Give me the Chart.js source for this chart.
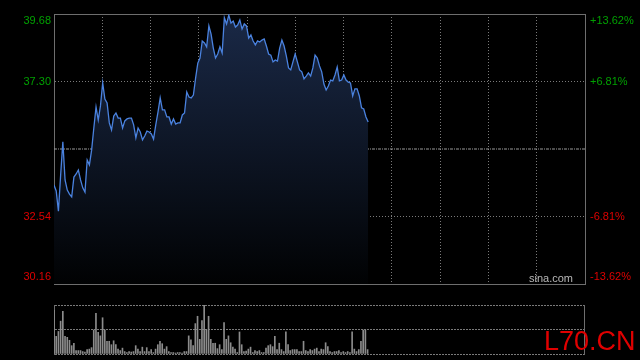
<!DOCTYPE html>
<html>
<head>
<meta charset="utf-8">
<script src="https://cdn.jsdelivr.net/npm/chart.js@4/dist/chart.umd.min.js"></script>
<style>
  html, body { margin: 0; padding: 0; background: #000; overflow: hidden; }
  #wrap { position: relative; width: 640px; height: 360px; }
  canvas { position: absolute; left: 0; }
  #price { top: 0; }
  #vol { top: 295px; }
</style>
</head>
<body>
<div id="wrap">
  <canvas id="price" width="640" height="295"></canvas>
  <canvas id="vol" width="640" height="65"></canvas>
</div>
<script>
// one trading day, minute slots 9:30 - 15:00
const slots = 241;
const prevClose = 34.92;
const priceTicks = [30.16, 32.54, 34.92, 37.30, 39.68];
const pctTicks = [-13.62, -6.81, 0, 6.81, 13.62];

const prices = [
  33.65, 33.44, 32.73, 34.00, 35.17, 33.83, 33.47, 33.33, 33.23, 33.93,
  34.04, 34.18, 33.83, 33.55, 33.40, 34.53, 34.36, 34.88, 35.66, 36.40,
  35.94, 36.44, 37.25, 36.68, 36.54, 35.84, 35.59, 36.08, 36.19, 36.01,
  36.01, 35.66, 35.91, 35.98, 36.01, 36.01, 35.77, 35.31, 35.66, 35.52,
  35.24, 35.38, 35.55, 35.52, 35.45, 35.27, 35.77, 36.22, 36.72, 36.30,
  36.30, 36.05, 36.05, 35.80, 35.98, 35.80, 35.84, 35.84, 36.12, 36.19,
  36.93, 36.75, 36.72, 36.82, 37.42, 37.95, 38.13, 38.73, 38.66, 38.52,
  39.26, 38.97, 38.48, 38.13, 38.27, 38.52, 38.30, 39.55, 39.33, 39.64,
  39.36, 39.43, 39.22, 39.29, 39.47, 39.15, 39.33, 39.26, 38.83, 38.94,
  38.73, 38.59, 38.73, 38.69, 38.76, 38.80, 38.55, 38.27, 38.23, 37.99,
  38.06, 38.02, 38.48, 38.76, 38.55, 38.20, 37.78, 37.71, 37.99, 38.27,
  37.99, 37.71, 37.64, 37.39, 37.49, 37.60, 37.49, 37.78, 38.23, 38.13,
  37.85, 37.64, 37.21, 37.00, 37.14, 37.35, 37.32, 37.53, 37.81, 37.32,
  37.35, 37.53, 37.35, 37.28, 37.25, 36.79, 37.04, 37.04, 36.79, 36.37,
  36.33, 36.05, 35.87
];

const volumes = [
  89, 36, 46, 67, 87, 36, 34, 28, 17, 22,
  7, 7, 7, 5, 4, 9, 10, 13, 49, 83,
  44, 37, 74, 49, 26, 26, 19, 27, 19, 10,
  7, 12, 5, 3, 5, 4, 5, 17, 10, 5,
  14, 5, 13, 5, 9, 3, 10, 19, 26, 21,
  10, 15, 5, 3, 3, 2, 3, 3, 2, 5,
  5, 37, 29, 17, 62, 77, 30, 68, 100, 50,
  77, 30, 22, 22, 11, 19, 9, 64, 30, 37,
  23, 14, 10, 3, 45, 19, 5, 6, 10, 14,
  3, 7, 5, 7, 3, 3, 12, 17, 19, 15,
  36, 9, 22, 9, 5, 45, 19, 7, 9, 9,
  9, 5, 5, 26, 7, 5, 9, 7, 10, 12,
  5, 10, 9, 23, 15, 5, 3, 5, 5, 7,
  3, 5, 3, 5, 3, 45, 10, 5, 9, 26,
  49, 49, 9
];
const volMax = 100;

const green = '#00a000';
const red = '#dd0000';
const gridGray = '#7a7a7a';
const borderGray = '#6e6e6e';
const labelFont = { family: 'Liberation Sans, Arial, sans-serif', size: 11 };

// vertical grid every 1/11 of the session
const xGrid = [];
for (let k = 0; k <= 11; k++) xGrid.push({ value: k * (slots - 1) / 11 });

function edgeLabel(text, i, n) {
  if (i === 0) return [text, ''];
  if (i === n - 1) return ['', text];
  return text;
}

// keep the plot box fixed, labels may hang over the edges
function fixY(width) {
  return (s) => { s.width = width; s.paddingTop = 0; s.paddingBottom = 0; };
}

const textPlugin = {
  id: 'texts',
  afterDraw(chart) {
    const c = chart.ctx;
    const a = chart.chartArea;
    c.save();
    if (chart.canvas.id === 'price') {
      c.font = '11px Liberation Sans, Arial, sans-serif';
      c.fillStyle = '#b8b8b8';
      c.textAlign = 'right';
      c.textBaseline = 'alphabetic';
      c.fillText('sina.com', a.right - 12, a.bottom - 2);
    } else {
      c.font = '27px Liberation Sans, Arial, sans-serif';
      c.fillStyle = '#e00000';
      c.textAlign = 'left';
      c.textBaseline = 'alphabetic';
      c.fillText('L70.CN', 544, 55);
    }
    c.restore();
  }
};

new Chart(document.getElementById('price'), {
  type: 'line',
  data: {
    datasets: [
      {
        data: prices.map((p, i) => ({ x: i, y: p })),
        yAxisID: 'y',
        borderColor: '#4a82df',
        borderWidth: 1.3,
        pointRadius: 0,
        tension: 0,
        fill: 'start',
        backgroundColor: (ctx) => {
          const a = ctx.chart.chartArea;
          if (!a) return 'transparent';
          const g = ctx.chart.ctx.createLinearGradient(0, a.top, 0, a.bottom);
          g.addColorStop(0, '#1a2947');
          g.addColorStop(1, '#010203');
          return g;
        }
      },
      {
        data: [{ x: 0, y: prevClose }, { x: slots - 1, y: prevClose }],
        yAxisID: 'y',
        borderColor: '#9a9a9a',
        borderWidth: 1,
        borderDash: [3, 1, 1, 1],
        pointRadius: 0,
        fill: false
      }
    ]
  },
  options: {
    responsive: false,
    animation: false,
    events: [],
    plugins: { legend: { display: false }, tooltip: { enabled: false } },
    layout: { padding: 0 },
    scales: {
      x: {
        type: 'linear', min: 0, max: slots - 1,
        afterBuildTicks: (s) => { s.ticks = xGrid.map(t => ({ value: t.value })); },
        ticks: { display: false },
        grid: { color: (c) => (c.index === 0 || c.index === 11) ? 'transparent' : gridGray, drawTicks: false },
        border: { color: borderGray, dash: [1, 2] },
        afterFit: (s) => { s.height = 11; s.paddingLeft = 0; s.paddingRight = 0; }
      },
      xTop: {
        type: 'linear', position: 'top', min: 0, max: slots - 1,
        ticks: { display: false },
        grid: { display: false, drawTicks: false },
        border: { color: borderGray },
        afterFit: (s) => { s.height = 14; s.paddingLeft = 0; s.paddingRight = 0; }
      },
      y: {
        position: 'left', min: priceTicks[0], max: priceTicks[priceTicks.length - 1],
        afterBuildTicks: (s) => { s.ticks = priceTicks.map(v => ({ value: v })); },
        ticks: {
          padding: 3,
          font: labelFont,
          color: (c) => c.tick.value > prevClose ? green : red,
          callback: (v, i) => v === prevClose ? '' : edgeLabel(v.toFixed(2), i, priceTicks.length)
        },
        grid: {
          color: (c) => (c.index === 0 || c.index === priceTicks.length - 1 || c.tick.value === prevClose) ? 'transparent' : gridGray,
          drawTicks: false
        },
        border: { color: borderGray, dash: [1, 2] },
        afterFit: fixY(54)
      },
      y2: {
        position: 'right', min: pctTicks[0], max: pctTicks[pctTicks.length - 1],
        afterBuildTicks: (s) => { s.ticks = pctTicks.map(v => ({ value: v })); },
        ticks: {
          padding: 5,
          font: labelFont,
          color: (c) => c.tick.value > 0 ? green : red,
          callback: (v, i) => v === 0 ? '' : edgeLabel((v > 0 ? '+' : '') + v.toFixed(2) + '%', i, pctTicks.length)
        },
        grid: { display: false, drawTicks: false },
        border: { color: borderGray },
        afterFit: fixY(55)
      }
    }
  },
  plugins: [textPlugin]
});

new Chart(document.getElementById('vol'), {
  type: 'bar',
  data: {
    datasets: [{
      data: volumes.map((v, i) => ({ x: i, y: v })),
      backgroundColor: '#8c8c8c',
      borderWidth: 0,
      barThickness: 1
    }]
  },
  options: {
    responsive: false,
    animation: false,
    events: [],
    plugins: { legend: { display: false }, tooltip: { enabled: false } },
    layout: { padding: { top: 10, bottom: 6 } },
    scales: {
      x: { type: 'linear', min: 0, max: slots - 1, offset: false, display: false },
      y: {
        position: 'left', min: 0, max: volMax,
        afterBuildTicks: (s) => { s.ticks = [0, volMax / 2, volMax].map(v => ({ value: v })); },
        ticks: { display: false },
        grid: { color: gridGray, drawTicks: false },
        border: { color: borderGray, dash: [2, 1] },
        afterFit: fixY(54)
      },
      y2: {
        position: 'right', min: 0, max: volMax,
        ticks: { display: false },
        grid: { display: false, drawTicks: false },
        border: { color: borderGray },
        afterFit: fixY(56)
      }
    }
  },
  plugins: [textPlugin]
});
</script>
</body>
</html>
